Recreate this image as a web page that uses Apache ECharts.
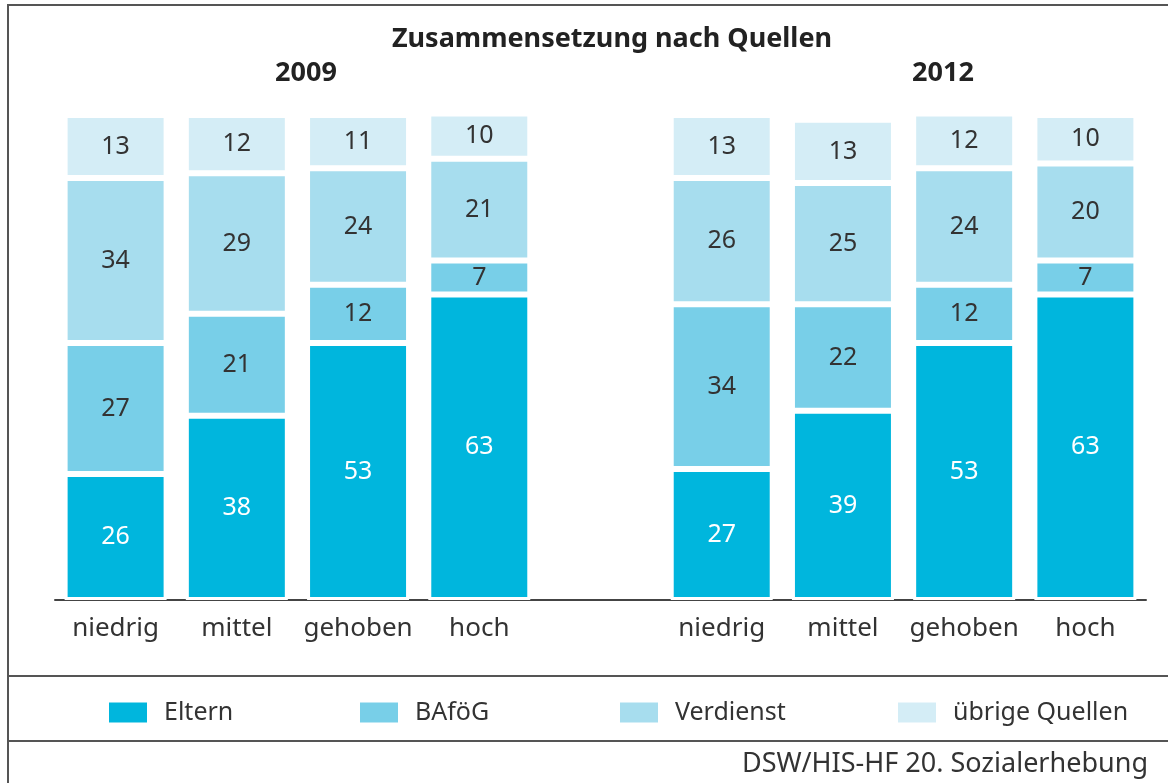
<!DOCTYPE html>
<html><head><meta charset="utf-8">
<script src="https://cdn.jsdelivr.net/npm/echarts@6/dist/echarts.min.js"></script>
<style>html,body{margin:0;padding:0;background:#fff}#c{width:1168px;height:783px}</style>
</head><body><div id="c"></div>
<script>
var categories = ['niedrig','mittel','gehoben','hoch','','niedrig','mittel','gehoben','hoch'];
var eltern    = [26, 38, 53, 63, null, 27, 39, 53, 63];
var bafoeg    = [27, 21, 12, 7,  null, 34, 22, 12, 7];
var verdienst = [34, 29, 24, 21, null, 26, 25, 24, 20];
var uebrige   = [13, 12, 11, 10, null, 13, 13, 12, 10];
var seriesNames = ['Eltern','BAföG','Verdienst','übrige Quellen'];
var colors = ['#00b6dd','#78cfe8','#a7ddee','#d4edf6'];
var years = ['2009','2012'];
var titleText = 'Zusammensetzung nach Quellen';
var sourceText = 'DSW/HIS-HF 20. Sozialerhebung';

var FONT = 'Noto Sans';
var chart = echarts.init(document.getElementById('c'));
var dataSets = [eltern, bafoeg, verdienst, uebrige];
var series = dataSets.map(function(d, i){
  return {
    name: seriesNames[i], type: 'bar', stack: 'a', data: d,
    barWidth: 102,
    itemStyle: {color: colors[i], borderColor: '#fff', borderWidth: 3},
    label: {show: true, position: 'inside', fontFamily: FONT, fontSize: 25,
      color: i === 0 ? '#fff' : '#333'}
  };
});
var legendLeft = [107, 358, 618, 896];
var legends = seriesNames.map(function(n, i){
  return {data: [n], left: legendLeft[i], top: 700, itemWidth: 40, itemHeight: 22,
    icon: 'rect', itemGap: 0, padding: 0, selectedMode: false,
    textStyle: {fontFamily: FONT, fontSize: 25, color: '#333', padding: [4,0,0,11]}};
});
chart.setOption({
  backgroundColor: '#fff',
  animation: false,
  grid: {left: 55, right: 22, top: 115, bottom: 183},
  xAxis: {type: 'category', data: categories,
    axisLine: {lineStyle: {color: '#444', width: 2}},
    axisTick: {show: false},
    axisLabel: {fontFamily: FONT, fontSize: 26, color: '#333', margin: 16, interval: 0}},
  yAxis: {type: 'value', min: 0, max: 100, show: false},
  legend: legends,
  series: series,
  graphic: [
    {type: 'text', style: {text: titleText, x: 612, y: 39, align: 'center', verticalAlign: 'middle', font: 'bold 27px "Noto Sans"', fill: '#222'}},
    {type: 'text', style: {text: years[0], x: 306, y: 73, align: 'center', verticalAlign: 'middle', font: 'bold 27px "Noto Sans"', fill: '#222'}},
    {type: 'text', style: {text: years[1], x: 943, y: 73, align: 'center', verticalAlign: 'middle', font: 'bold 27px "Noto Sans"', fill: '#222'}},
    {type: 'text', style: {text: sourceText, x: 1148, y: 764, align: 'right', verticalAlign: 'middle', font: '27px "Noto Sans"', fill: '#333'}},
    {type: 'polyline', shape: {points: [[8,783],[8,5],[1168,5]]}, style: {stroke: '#555', lineWidth: 2, fill: null}},
    {type: 'line', shape: {x1: 8, y1: 676, x2: 1168, y2: 676}, style: {stroke: '#555', lineWidth: 2}},
    {type: 'line', shape: {x1: 8, y1: 741, x2: 1168, y2: 741}, style: {stroke: '#555', lineWidth: 2}}
  ]
});
</script></body></html>
